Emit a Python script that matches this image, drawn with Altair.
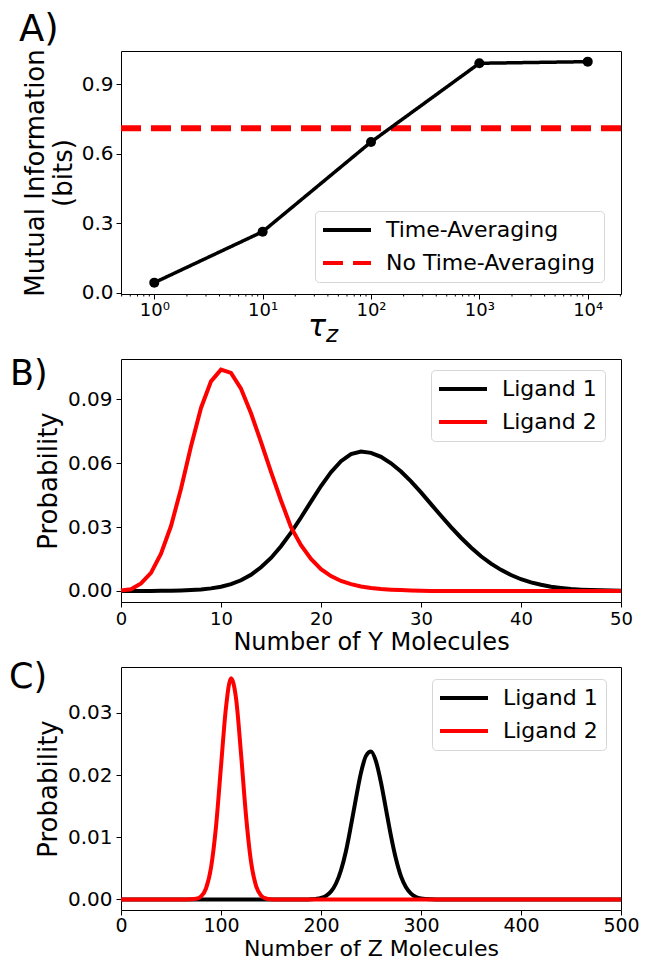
import altair as alt
import pandas as pd

FONT = "DejaVu Sans"
PANEL_LABELS = ["A)", "B)", "C)"]

# ---------------- Panel A ----------------
SERIES_A = ["Time-Averaging", "No Time-Averaging"]
TAU = [1, 10, 100, 1000, 10000]
MI_TIME_AVERAGING = [0.043, 0.263, 0.650, 0.990, 0.997]
MI_NO_TIME_AVERAGING = [0.71]
TAU_TICKS = [1, 10, 100, 1000, 10000]
TAU_TICK_LABELS = ["10⁰", "10¹", "10²", "10³", "10⁴"]
TAU_MINOR_TICKS = [0.5, 0.6, 0.7, 0.8, 0.9, 2, 3, 4, 5, 6, 7, 8, 9,
                   20, 30, 40, 50, 60, 70, 80, 90,
                   200, 300, 400, 500, 600, 700, 800, 900,
                   2000, 3000, 4000, 5000, 6000, 7000, 8000, 9000, 20000]
MI_TICKS = [0.0, 0.3, 0.6, 0.9]
TAU_TITLE = ["τ", "z"]

# ---------------- Panel B ----------------
SERIES_BC = ["Ligand 1", "Ligand 2"]
Y_COUNT = [0, 1, 2, 3, 4, 5, 6, 7, 8, 9, 10, 11, 12, 13, 14, 15, 16, 17, 18, 19, 20,
           21, 22, 23, 24, 25, 26, 27, 28, 29, 30, 31, 32, 33, 34, 35, 36, 37, 38, 39, 40,
           41, 42, 43, 44, 45, 46, 47, 48, 49, 50]
P_Y_LIGAND1 = [0.0000, 0.0000, 0.0000, 0.0000, 0.0001, 0.0001, 0.0002, 0.0004, 0.0007, 0.0012,
               0.0020, 0.0032, 0.0050, 0.0076, 0.0111, 0.0155, 0.0210, 0.0274, 0.0345, 0.0420,
               0.0493, 0.0558, 0.0610, 0.0643, 0.0655, 0.0649, 0.0630, 0.0600, 0.0561, 0.0515,
               0.0463, 0.0408, 0.0353, 0.0300, 0.0250, 0.0204, 0.0163, 0.0128, 0.0099, 0.0075,
               0.0055, 0.0040, 0.0029, 0.0020, 0.0014, 0.0009, 0.0006, 0.0004, 0.0003, 0.0002,
               0.0001]
P_Y_LIGAND2 = [0.0002, 0.0008, 0.0035, 0.0085, 0.0175, 0.0305, 0.0480, 0.0680, 0.0860, 0.0985,
               0.1040, 0.1025, 0.0950, 0.0835, 0.0700, 0.0560, 0.0425, 0.0300, 0.0215, 0.0150,
               0.0102, 0.0070, 0.0047, 0.0032, 0.0021, 0.0014, 0.0009, 0.0006, 0.0004, 0.0002,
               0.0001, 0.0, 0.0, 0.0, 0.0, 0.0, 0.0, 0.0, 0.0, 0.0,
               0.0, 0.0, 0.0, 0.0, 0.0, 0.0, 0.0, 0.0, 0.0, 0.0,
               0.0]
Y_COUNT_TICKS = [0, 10, 20, 30, 40, 50]
P_Y_TICKS = [0.0, 0.03, 0.06, 0.09]

# ---------------- Panel C ----------------
Z_COUNT_LIGAND1 = [0, 185, 190, 195, 200, 205, 210, 215, 220, 225, 230, 235, 240, 245, 250,
                   255, 260, 265, 270, 275, 280, 285, 290, 295, 300, 305, 310, 315, 500]
P_Z_LIGAND1 = [0.0, 0.0, 0.00003, 0.00009, 0.00023, 0.00057, 0.00127, 0.00256, 0.0047, 0.0078,
               0.0119, 0.0163, 0.0204, 0.0231, 0.0238, 0.0222, 0.0188, 0.0145, 0.0102, 0.0065,
               0.0037, 0.00195, 0.00093, 0.0004, 0.00016, 0.00006, 0.00002, 0.0, 0.0]
Z_COUNT_LIGAND2 = [0, 65, 70, 75, 80, 85, 90, 95, 100, 105, 110, 115, 120, 125, 130,
                   135, 140, 145, 150, 155, 500]
P_Z_LIGAND2 = [0.0, 0.0, 0.00002, 0.0001, 0.00048, 0.00176, 0.0051, 0.0117, 0.0214, 0.0309,
               0.0356, 0.0324, 0.0235, 0.0135, 0.0061, 0.0022, 0.00064, 0.00015, 0.00003, 0.0,
               0.0]
Z_COUNT_TICKS = [0, 100, 200, 300, 400, 500]
P_Z_TICKS = [0.0, 0.01, 0.02, 0.03]

W, H = 500, 243


def make_legend(x, y):
    # long thin line symbol: unit-box path stretched beyond the symbol cell
    return alt.Legend(title=None, orient="none", legendX=x, legendY=y,
                      symbolType="M-3,0H3", symbolSize=256, symbolStrokeWidth=4,
                      symbolOffset=13, labelOffset=28,
                      labelFont=FONT, labelFontSize=22, labelColor="black",
                      labelLimit=400, rowPadding=11, padding=8,
                      fillColor="white", strokeColor="#d6d6d6", cornerRadius=4)


def panel_label(text, x, y, size):
    return alt.Chart(pd.DataFrame({"t": [text]})).mark_text(
        font=FONT, fontSize=size, align="left", baseline="alphabetic", color="black"
    ).encode(text="t:N", x=alt.value(x), y=alt.value(y))


# ---- Panel A ----
df_a = pd.DataFrame({"tau": TAU, "mi": MI_TIME_AVERAGING, "series": SERIES_A[0]})
df_a_rule = pd.DataFrame({"mi": MI_NO_TIME_AVERAGING, "series": [SERIES_A[1]]})
df_a_minor = pd.DataFrame({"tau": TAU_MINOR_TICKS})

label_expr = " : ".join(f"datum.value == {v} ? '{l}'" for v, l in zip(TAU_TICKS, TAU_TICK_LABELS)) + " : ''"
tau_scale = alt.Scale(type="log", domain=[0.493, 20280], nice=False)
x_a = alt.X("tau:Q", scale=tau_scale,
            axis=alt.Axis(values=TAU_TICKS, labelExpr=label_expr, title=None, orient="bottom",
                          labelFontSize=18, tickSize=5, labelPadding=2))
y_a = alt.Y("mi:Q", scale=alt.Scale(domain=[-0.006, 1.043], nice=False, zero=False),
            axis=alt.Axis(values=MI_TICKS, format=".1f", title=["Mutual Information", "(bits)"],
                          titleFontSize=26, titleLineHeight=28, labelFontSize=20,
                          tickSize=5, labelPadding=3, titlePadding=5))
color_a = alt.Color("series:N", scale=alt.Scale(domain=SERIES_A, range=["#000000", "#ff0000"]),
                    legend=make_legend(194, 160))
dash_a = alt.StrokeDash("series:N", scale=alt.Scale(domain=SERIES_A, range=[[1, 0], [20, 10]]))

rule_a = alt.Chart(df_a_rule).mark_rule(strokeWidth=6).encode(y=y_a, color=color_a, strokeDash=dash_a)
line_a = alt.Chart(df_a).mark_line(strokeWidth=3.5).encode(x=x_a, y=y_a, color=color_a, strokeDash=dash_a)
pts_a = alt.Chart(df_a).mark_circle(size=100, color="black", opacity=1).encode(x=x_a, y=y_a)
minor_a = alt.Chart(df_a_minor).mark_rule(color="black", strokeWidth=1).encode(
    x=x_a, y=alt.value(H), y2=alt.value(H + 2.5))
tau_txt = alt.Chart(pd.DataFrame({"t": [TAU_TITLE[0]]})).mark_text(
    font=FONT, fontSize=30, fontStyle="italic", align="left", baseline="alphabetic", color="black"
).encode(text="t:N", x=alt.value(187), y=alt.value(285))
z_txt = alt.Chart(pd.DataFrame({"t": [TAU_TITLE[1]]})).mark_text(
    font=FONT, fontSize=23, fontStyle="italic", align="left", baseline="alphabetic", color="black"
).encode(text="t:N", x=alt.value(205), y=alt.value(291))

panel_a = alt.layer(rule_a, line_a, pts_a, minor_a, tau_txt, z_txt,
                    panel_label(PANEL_LABELS[0], -102, -10, 37)
                    ).properties(width=W, height=H)

# ---- Panel B ----
df_b = pd.DataFrame({
    "count": Y_COUNT + Y_COUNT,
    "p": P_Y_LIGAND1 + P_Y_LIGAND2,
    "series": [SERIES_BC[0]] * len(Y_COUNT) + [SERIES_BC[1]] * len(Y_COUNT),
})
x_b = alt.X("count:Q", scale=alt.Scale(domain=[0, 50], nice=False),
            axis=alt.Axis(values=Y_COUNT_TICKS, title="Number of Y Molecules", titleFontSize=24,
                          labelFontSize=18, tickSize=5, labelPadding=3, titlePadding=2))
y_b = alt.Y("p:Q", scale=alt.Scale(domain=[-0.0052, 0.109], nice=False, zero=False),
            axis=alt.Axis(values=P_Y_TICKS, format=".2f", title="Probability", titleFontSize=26,
                          labelFontSize=20, tickSize=5, labelPadding=4, titlePadding=6))


def color_bc(lx, ly):
    return alt.Color("series:N", scale=alt.Scale(domain=SERIES_BC, range=["#000000", "#ff0000"]),
                     legend=make_legend(lx, ly))


c_b = color_bc(310, 11)
b1 = alt.Chart(df_b[df_b.series == SERIES_BC[0]]).mark_line(strokeWidth=4).encode(x=x_b, y=y_b, color=c_b)
b2 = alt.Chart(df_b[df_b.series == SERIES_BC[1]]).mark_line(strokeWidth=4).encode(x=x_b, y=y_b, color=c_b)
panel_b = alt.layer(b1, b2, panel_label(PANEL_LABELS[1], -111, 26, 35)).properties(width=W, height=H)

# ---- Panel C ----
df_c1 = pd.DataFrame({"count": Z_COUNT_LIGAND1, "p": P_Z_LIGAND1, "series": SERIES_BC[0]})
df_c2 = pd.DataFrame({"count": Z_COUNT_LIGAND2, "p": P_Z_LIGAND2, "series": SERIES_BC[1]})
x_c = alt.X("count:Q", scale=alt.Scale(domain=[0, 500], nice=False),
            axis=alt.Axis(values=Z_COUNT_TICKS, title="Number of Z Molecules", titleFontSize=22,
                          labelFontSize=19, tickSize=5, labelPadding=1, titlePadding=3))
y_c = alt.Y("p:Q", scale=alt.Scale(domain=[-0.0017, 0.0374], nice=False, zero=False),
            axis=alt.Axis(values=P_Z_TICKS, format=".2f", title="Probability", titleFontSize=26,
                          labelFontSize=20, tickSize=5, labelPadding=4, titlePadding=6))
c_c = color_bc(311, 12)
c1 = alt.Chart(df_c1).mark_line(strokeWidth=4, interpolate="monotone").encode(x=x_c, y=y_c, color=c_c)
c2 = alt.Chart(df_c2).mark_line(strokeWidth=4, interpolate="monotone").encode(x=x_c, y=y_c, color=c_c)
panel_c = alt.layer(c1, c2, panel_label(PANEL_LABELS[2], -112, 21, 35)).properties(width=W, height=H)

chart = alt.vconcat(panel_a, panel_b, panel_c, spacing=65, bounds="flush",
                    padding={"left": 0, "top": 2, "right": 0, "bottom": 0}
                    ).resolve_scale(color="independent", strokeDash="independent", x="independent", y="independent"
                    ).resolve_legend(color="independent", strokeDash="independent"
                    ).configure_view(stroke="black", strokeWidth=1
                    ).configure_axis(labelFont=FONT, titleFont=FONT, labelColor="black", titleColor="black",
                                     tickColor="black", domain=False, grid=False, titleFontWeight="normal",
                                     labelFlush=False, labelOverlap=False, tickWidth=1)

chart.save("out.html", embed_options={"renderer": "svg", "actions": False})
